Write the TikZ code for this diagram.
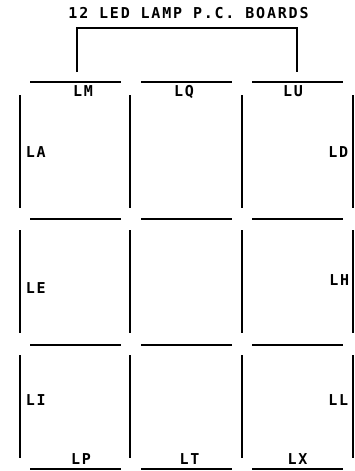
\documentclass[tikz,border=0pt]{standalone}
\usepackage{fontspec}
\newfontfamily\plotfont[LetterSpace=12]{DejaVu Sans Mono}
\begin{document}
\begin{tikzpicture}[x=1pt,y=-1pt,line width=1.6pt,
  lbl/.style={font=\plotfont\bfseries\fontsize{15}{15}\selectfont,inner sep=0pt,anchor=base},
  lblw/.style={lbl,anchor=base west},
  lble/.style={lbl,anchor=base east}]
\useasboundingbox (0,0) rectangle (354,471);
% title and bracket
\node[lbl] (title) at (188.5,19) {12 LED LAMP P.C. BOARDS};
\coordinate (bl) at (77,72);
\coordinate (br) at (297,72);
\draw (bl) -- (77,28) -- (297,28) -- (br);
% horizontal board edges
\foreach \y in {82,219,345,469}{
  \draw (30,\y) -- (121,\y);
  \draw (141,\y) -- (232,\y);
  \draw (252,\y) -- (343,\y);
}
% vertical board edges
\foreach \x in {20,130,242,353}{
  \draw (\x,95) -- (\x,208);
  \draw (\x,230) -- (\x,333);
  \draw (\x,355) -- (\x,458);
}
% labels
\node[lbl] (LM) at (83,96) {LM};
\node[lbl] (LQ) at (184,96) {LQ};
\node[lbl] (LU) at (293,96) {LU};
\node[lblw] (LA) at (25,157.5) {LA};
\node[lble] (LD) at (349,157.5) {LD};
\node[lblw] (LE) at (25,293.5) {LE};
\node[lble] (LH) at (350,285.5) {LH};
\node[lblw] (LI) at (25,405.5) {LI};
\node[lble] (LL) at (349,405.5) {LL};
\node[lbl] (LP) at (81,464.5) {LP};
\node[lbl] (LT) at (189.5,464.5) {LT};
\node[lbl] (LX) at (297.5,464.5) {LX};
\end{tikzpicture}
\end{document}
